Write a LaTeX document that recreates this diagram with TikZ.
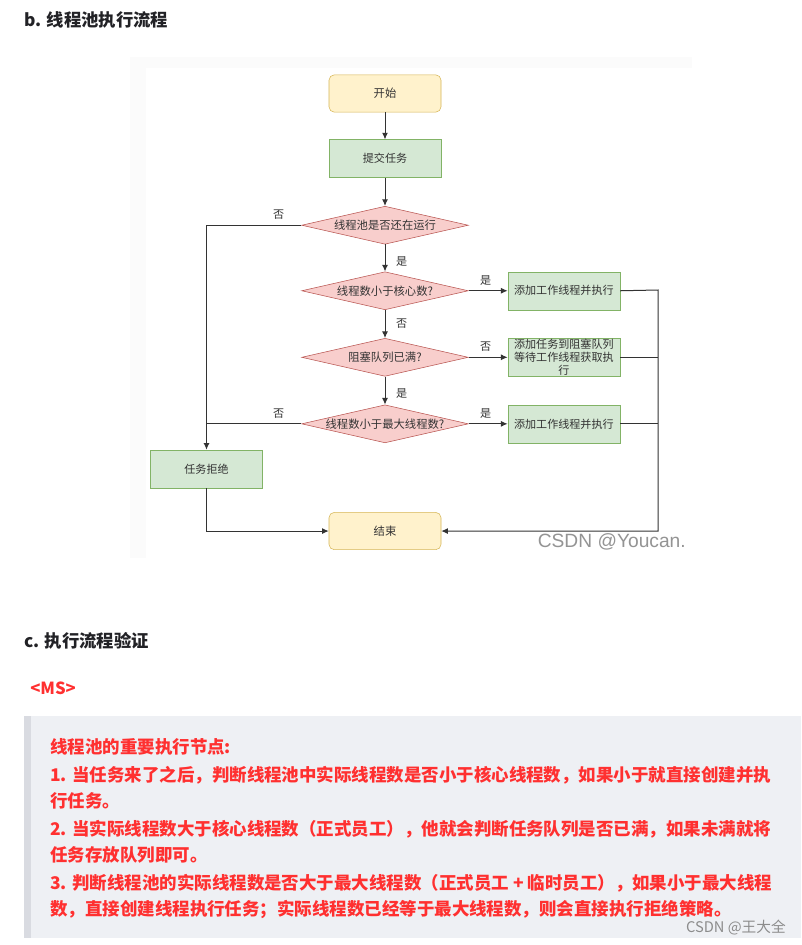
\documentclass[tikz,border=0pt]{standalone}
\usepackage{fontspec}
\setmainfont{Noto Sans CJK SC}
\newfontfamily\wmfont{Liberation Sans}
\usepackage{xcolor}
\usetikzlibrary{arrows.meta,positioning,shapes.geometric}
\definecolor{yfill}{HTML}{FFF2CC}
\definecolor{ydraw}{HTML}{D6B656}
\definecolor{gfill}{HTML}{D5E8D4}
\definecolor{gdraw}{HTML}{82B366}
\definecolor{rfill}{HTML}{F8CECC}
\definecolor{rdraw}{HTML}{B85450}
\definecolor{headc}{HTML}{222226}
\definecolor{notered}{HTML}{FF3030}
\definecolor{quotebg}{HTML}{EEF0F4}
\definecolor{quotebar}{HTML}{D9DBE1}
\definecolor{linec}{HTML}{333333}
\newcommand{\dtext}[1]{\makebox[0pt]{#1}}
\tikzset{
  term/.style={draw=ydraw, fill=yfill, rounded corners=4pt, minimum width=84pt, minimum height=28pt, inner sep=0pt, font=\fontsize{8.5pt}{10pt}\selectfont, text=linec},
  proc/.style={draw=gdraw, fill=gfill, minimum width=84pt, minimum height=28.5pt, inner sep=0pt, align=center, font=\fontsize{8.3pt}{9.4pt}\selectfont, text=linec},
  dec/.style={diamond, draw=rdraw, fill=rfill, minimum width=125pt, minimum height=28.5pt, inner sep=0pt, font=\fontsize{8.5pt}{10pt}\selectfont, text=linec},
  farr/.style={-{Latex[length=5pt,width=4.5pt]}, draw=linec, line width=0.75pt},
  fline/.style={draw=linec, line width=0.75pt},
  lbl/.style={font=\fontsize{8.3pt}{10pt}\selectfont, text=linec, inner sep=1pt},
  heading/.style={anchor=west, inner sep=0pt, text=headc, font=\bfseries\fontsize{13pt}{16pt}\selectfont},
  noteline/.style={anchor=west, inner sep=0pt, text=notered, font=\bfseries\fontsize{13.1pt}{16pt}\selectfont}
}

\begin{document}
\begin{tikzpicture}[x=0.75pt, y=-0.75pt]
\useasboundingbox (0,0) rectangle (801,945);
% title of the flow chart
\node[heading] (titleb) at (24,20) {b. 线程池执行流程};
% picture background
\fill[black!1.5] (130,57) rectangle (692,558);
\fill[white] (146,68) rectangle (692,558);
% main column
\node[term] (start) at (385,93.5) {开始};
\node[proc, below=20.25pt of start] (submit) {提交任务};
\node[dec, below=21pt of submit] (run) {\dtext{线程池是否还在运行}};
\node[dec, below=20.25pt of run] (core) {\dtext{线程数小于核心数?}};
\node[dec, below=21pt of core] (queue) {\dtext{阻塞队列已满?}};
\node[dec, below=21pt of queue] (maxn) {\dtext{线程数小于最大线程数?}};
\node[term, below=51.75pt of maxn] (stop) {结束};
% side boxes
\node[proc, right=29.25pt of core] (addw1) {添加工作线程并执行};
\node[proc, right=29.25pt of queue] (addq) {添加任务到阻塞队列\\等待工作线程获取执\\行};
\node[proc, right=29.25pt of maxn] (addw2) {添加工作线程并执行};
\node[proc] (reject) at (206.5,469) {任务拒绝};
\coordinate (rbus) at (658,290);
% connectors
\draw[farr] (start) -- (submit);
\draw[farr] (submit) -- (run);
\draw[farr] (run) -- node[lbl, pos=0.62, right=7pt] {是} (core);
\draw[farr] (core) -- node[lbl, pos=0.5, right=7pt] {否} (queue);
\draw[farr] (queue) -- node[lbl, pos=0.62, right=7pt] {是} (maxn);
\draw[farr] (run.west) -| node[lbl, pos=0.12, above=3pt] {否} (reject.north);
\draw[fline] (maxn.west) -- node[lbl, pos=0.24, above=3pt] {否} (maxn.west -| reject.north);
\draw[farr] (core.east) -- node[lbl, pos=0.44, above=3pt] {是} (addw1.west);
\draw[farr] (queue.east) -- node[lbl, pos=0.44, above=3pt] {否} (addq.west);
\draw[farr] (maxn.east) -- node[lbl, pos=0.44, above=3pt] {是} (addw2.west);
\draw[farr] (addw1.east) -- (rbus) |- (stop.east);
\draw[fline] (addq.east) -- (addq.east -| rbus);
\draw[fline] (addw2.east) -- (addw2.east -| rbus);
\draw[farr] (reject.south) |- (stop.west);
\node[anchor=east, inner sep=0pt, text=black!42, font=\wmfont\fontsize{14.4pt}{16pt}\selectfont] (wm1) at (686,542) {CSDN @Youcan.};
% second part
\node[heading] (titlec) at (24,641) {c. 执行流程验证};
\node[noteline, font=\bfseries\fontsize{12.5pt}{15pt}\selectfont] (ms) at (30,688) {<MS>};
\fill[quotebg] (24,716) rectangle (801,938);
\fill[quotebar] (24,716) rectangle (31,938);
\node[noteline] (n0) at (50,747) {线程池的重要执行节点:};
\node[noteline] (n1) at (50,775) {1. 当任务来了之后，判断线程池中实际线程数是否小于核心线程数，如果小于就直接创建并执};
\node[noteline] (n2) at (50,801) {行任务。};
\node[noteline] (n3) at (50,829) {2. 当实际线程数大于核心线程数（正式员工），他就会判断任务队列是否已满，如果未满就将};
\node[noteline] (n4) at (50,855) {任务存放队列即可。};
\node[noteline] (n5) at (50,883) {3. 判断线程池的实际线程数是否大于最大线程数（正式员工 + 临时员工），如果小于最大线程};
\node[noteline] (n6) at (50,909) {数，直接创建线程执行任务；实际线程数已经等于最大线程数，则会直接执行拒绝策略。};
\node[anchor=east, inner sep=0pt, text=black!45, font=\fontsize{11pt}{13pt}\selectfont] (wm2) at (786,928) {CSDN @王大全};
\end{tikzpicture}
\end{document}
